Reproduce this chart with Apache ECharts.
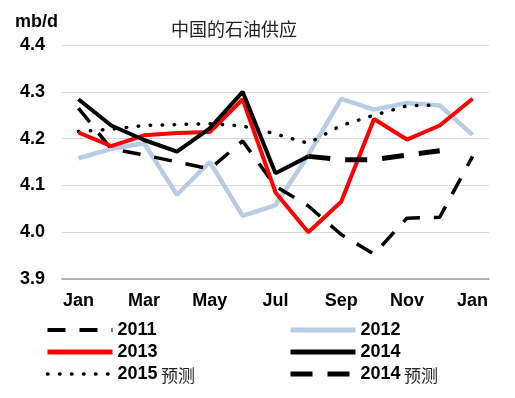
<!DOCTYPE html>
<html>
<head>
<meta charset="utf-8">
<script src="https://cdn.jsdelivr.net/npm/echarts@6/dist/echarts.min.js"></script>
<style>
  html, body { margin: 0; padding: 0; background: #fff; }
  #chart { width: 515px; height: 398px; }
</style>
</head>
<body>
<div id="chart"></div>
<script>
var months = ['Jan', 'Feb', 'Mar', 'Apr', 'May', 'Jun', 'Jul', 'Aug', 'Sep', 'Oct', 'Nov', 'Dec', 'Jan'];

var s2011 = [4.265, 4.178, 4.165, 4.15, 4.135, 4.195, 4.098, 4.056, 3.995, 3.953, 4.03, 4.032, 4.162];
var s2012 = [4.158, 4.178, 4.19, 4.08, 4.15, 4.035, 4.058, 4.165, 4.285, 4.262, 4.276, 4.271, 4.208];
var s2013 = [4.213, 4.184, 4.207, 4.212, 4.214, 4.284, 4.085, 4.0, 4.065, 4.242, 4.198, 4.228, 4.285];
var s2014 = [4.284, 4.228, 4.197, 4.172, 4.222, 4.3, 4.126, 4.162, null, null, null, null, null];
var s2015f = [4.215, 4.22, 4.228, 4.23, 4.232, 4.227, 4.21, 4.19, 4.228, 4.25, 4.27, 4.272, null];
var s2014f = [null, null, null, null, null, null, null, 4.162, 4.155, 4.155, 4.165, 4.174, null];

var latin = "'Liberation Sans', Arial, 'Noto Sans CJK SC', sans-serif";
var cjk = "'Noto Sans CJK SC', sans-serif";

var chart = echarts.init(document.getElementById('chart'));

// "2015 预测" -> bold year + plain chinese suffix
function legendName(name) {
    var parts = name.split(' ');
    if (parts.length > 1) {
        return '{y|' + parts[0] + '} {c|' + parts[1] + '}';
    }
    return '{y|' + name + '}';
}

var legendText = {
    color: '#000',
    rich: {
        y: { fontFamily: latin, fontWeight: 'bold', fontSize: 18, color: '#000' },
        c: { fontFamily: cjk, fontSize: 17, color: '#222', padding: [4, 0, 0, 0] }
    }
};

function makeLegend(left, items) {
    return {
        orient: 'vertical',
        left: left,
        top: 321,
        padding: 0,
        itemWidth: 65,
        itemHeight: 14,
        itemGap: 4,
        selectedMode: false,
        formatter: legendName,
        textStyle: legendText,
        itemStyle: { opacity: 0 },
        data: items
    };
}

chart.setOption({
    animation: false,
    backgroundColor: '#fff',
    title: {
        text: '中国的石油供应',
        left: 166,
        top: 15,
        textStyle: { fontFamily: cjk, fontSize: 18, fontWeight: 'normal', color: '#222' }
    },
    graphic: [{
        type: 'text',
        left: 15,
        top: 13,
        style: { text: 'mb/d', fontFamily: latin, fontSize: 18, fontWeight: 'bold', fill: '#000' }
    }],
    legend: [
        makeLegend(45, [
            { name: '2011', lineStyle: { width: 4 } },
            { name: '2013', lineStyle: { width: 5 } },
            { name: '2015 预测', lineStyle: { width: 3.5 } }
        ]),
        makeLegend(288, [
            { name: '2012', lineStyle: { width: 5 } },
            { name: '2014', lineStyle: { width: 5 } },
            { name: '2014 预测', lineStyle: { width: 5 } }
        ])
    ],
    grid: { left: 62, right: 26, top: 45, bottom: 119 },
    xAxis: {
        type: 'category',
        data: months,
        boundaryGap: true,
        axisLine: { lineStyle: { color: '#a0a0a0', width: 1.5 } },
        axisTick: { interval: 0, length: 5, lineStyle: { color: '#a0a0a0', width: 1.5 } },
        axisLabel: {
            interval: 1,
            margin: 13,
            color: '#000',
            fontFamily: latin,
            fontWeight: 'bold',
            fontSize: 18
        }
    },
    yAxis: {
        type: 'value',
        min: 3.9,
        max: 4.4,
        interval: 0.1,
        axisLine: { show: false },
        axisTick: { show: false },
        splitLine: { lineStyle: { color: '#d9d9d9', width: 1 } },
        axisLabel: {
            margin: 17,
            color: '#000',
            fontFamily: latin,
            fontWeight: 'bold',
            fontSize: 18,
            formatter: function (v) { return v.toFixed(1); }
        }
    },
    series: [
        {
            name: '2012', type: 'line', data: s2012, symbol: 'none', z: 2,
            lineStyle: { color: '#b8cce4', width: 4.5 }
        },
        {
            name: '2011', type: 'line', data: s2011, symbol: 'none', z: 3,
            lineStyle: { color: '#000', width: 3.5, type: [18, 14] }
        },
        {
            name: '2015 预测', type: 'line', data: s2015f, symbol: 'none', z: 3,
            lineStyle: { color: '#000', width: 3.5, type: [0.5, 11.5], cap: 'round' }
        },
        {
            name: '2013', type: 'line', data: s2013, symbol: 'none', z: 4,
            lineStyle: { color: '#ff0000', width: 4 }
        },
        {
            name: '2014', type: 'line', data: s2014, symbol: 'none', z: 5,
            lineStyle: { color: '#000', width: 4 }
        },
        {
            name: '2014 预测', type: 'line', data: s2014f, symbol: 'none', z: 5,
            lineStyle: { color: '#000', width: 5, type: [22, 15] }
        }
    ]
});
</script>
</body>
</html>
